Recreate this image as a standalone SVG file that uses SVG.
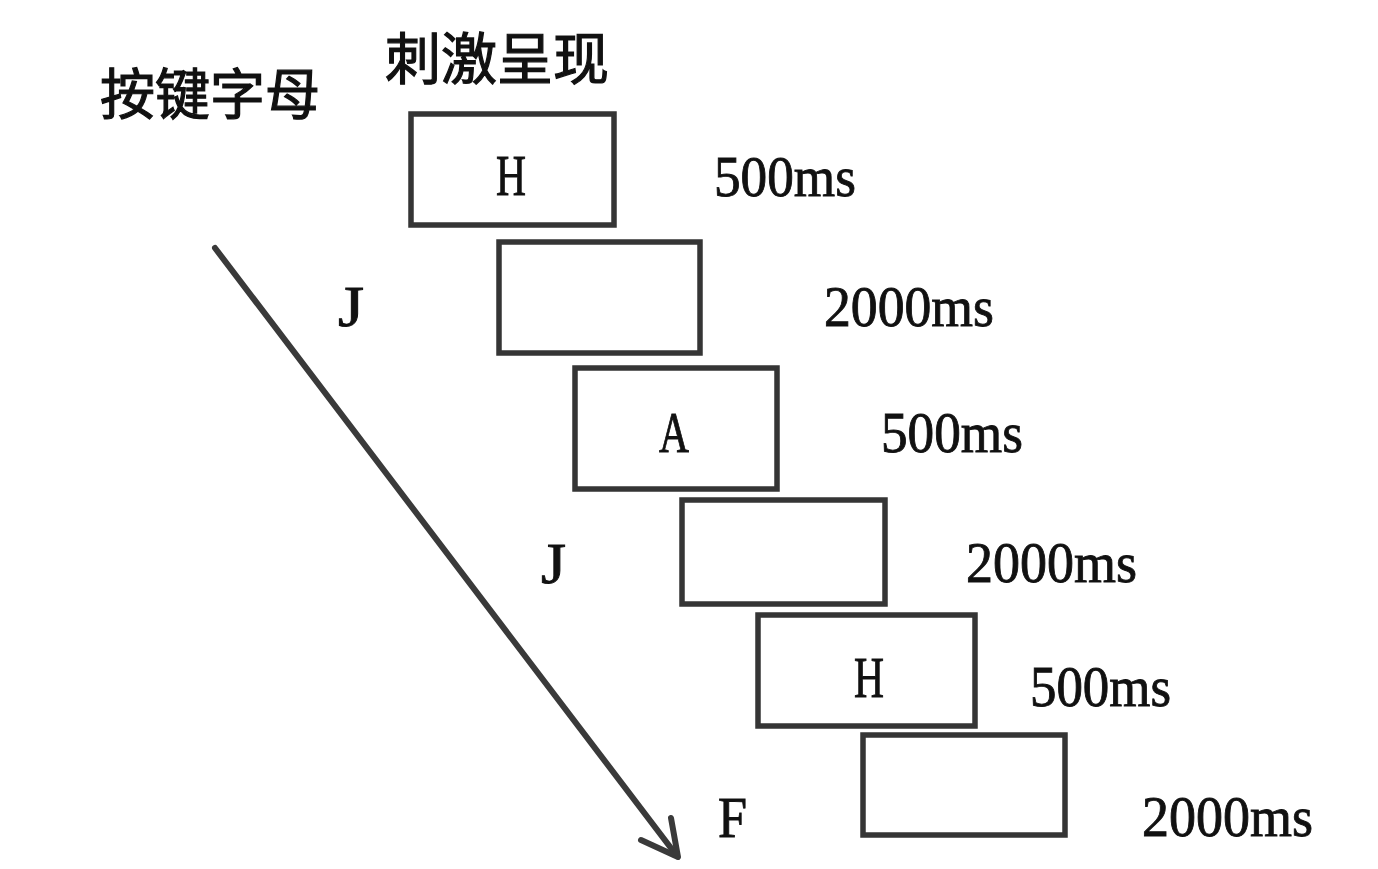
<svg xmlns="http://www.w3.org/2000/svg" width="1378" height="869" viewBox="0 0 1378 869">
<style>
.box{fill:none;stroke:#353535;stroke-width:5.5}
.lat{font-family:"Liberation Serif",serif;font-size:57px;fill:#111;stroke:#111;stroke-width:0.9}
.cjk{font-family:"Noto Sans CJK SC",sans-serif;font-size:56px;fill:#111;stroke:#111;stroke-width:1.2}
.arr{fill:none;stroke:#3a3a3a;stroke-width:6;stroke-linecap:round;stroke-linejoin:round}
</style>
<rect width="1378" height="869" fill="#fff"/>
<g id="title-stim"><text class="cjk" x="385" y="79">刺激呈现</text></g>
<g id="title-key"><text class="cjk" x="100" y="114" style="font-size:55px">按键字母</text></g>
<g id="box1"><rect class="box" x="411" y="114" width="203" height="111"/><text class="lat" x="496" y="195" textLength="30" lengthAdjust="spacingAndGlyphs">H</text></g>
<g id="box2"><rect class="box" x="499" y="242" width="201" height="111"/></g>
<g id="box3"><rect class="box" x="575" y="368" width="202" height="121"/><text class="lat" x="659" y="452" textLength="30" lengthAdjust="spacingAndGlyphs">A</text></g>
<g id="box4"><rect class="box" x="682" y="500" width="203" height="104"/></g>
<g id="box5"><rect class="box" x="758" y="615" width="217" height="111"/><text class="lat" x="854" y="697" textLength="30" lengthAdjust="spacingAndGlyphs">H</text></g>
<g id="box6"><rect class="box" x="863" y="735" width="202" height="100"/></g>
<g id="keys">
<text class="lat" x="338" y="326" textLength="26" lengthAdjust="spacingAndGlyphs">J</text>
<text class="lat" x="541" y="583" textLength="25" lengthAdjust="spacingAndGlyphs">J</text>
<text class="lat" x="718" y="837" textLength="29" lengthAdjust="spacingAndGlyphs">F</text>
</g>
<g id="durations">
<text class="lat" x="714" y="196" textLength="142" lengthAdjust="spacingAndGlyphs">500ms</text>
<text class="lat" x="824" y="326" textLength="170" lengthAdjust="spacingAndGlyphs">2000ms</text>
<text class="lat" x="881" y="452" textLength="142" lengthAdjust="spacingAndGlyphs">500ms</text>
<text class="lat" x="966" y="582" textLength="171" lengthAdjust="spacingAndGlyphs">2000ms</text>
<text class="lat" x="1030" y="706" textLength="141" lengthAdjust="spacingAndGlyphs">500ms</text>
<text class="lat" x="1142" y="836" textLength="171" lengthAdjust="spacingAndGlyphs">2000ms</text>
</g>
<g id="connectors">
<path class="arr" d="M215 248 L677 856"/>
<path class="arr" d="M641 840 L678 857 L671 818"/>
</g>
</svg>
